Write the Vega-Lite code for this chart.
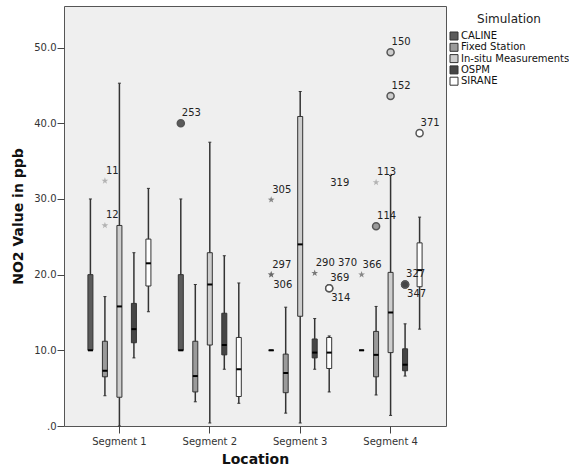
{
  "$schema": "https://vega.github.io/schema/vega-lite/v6.json",
  "width": 382,
  "height": 420,
  "autosize": "none",
  "padding": {"left": 64, "top": 6, "right": 123, "bottom": 46},
  "background": "white",
  "config": {
    "font": "DejaVu Sans",
    "view": {"fill": "#efefef", "stroke": "#555555", "strokeWidth": 1},
    "axis": {"labelColor": "#333333", "labelFontSize": 10, "tickColor": "#444444", "domain": false, "grid": false, "titleColor": "#111111", "titleFontSize": 14, "titleFontWeight": "bold"},
    "legend": {"orient": "none", "legendX": 385, "legendY": 8, "symbolType": "square", "symbolSize": 64, "symbolStrokeColor": "#333333", "symbolStrokeWidth": 1, "labelFontSize": 10, "labelColor": "#111111", "labelOffset": 2, "rowPadding": -0.7, "titleFontSize": 12, "titleFontWeight": "normal", "titleColor": "#222222", "titleAnchor": "middle", "titlePadding": 5, "padding": 0}
  },
  "datasets": {
    "boxes": [
      {"seg": "Segment 1", "sim": "CALINE", "lo": 10, "q1": 10, "med": 10, "q3": 20, "hi": 30},
      {"seg": "Segment 1", "sim": "Fixed Station", "lo": 4.0, "q1": 6.5, "med": 7.3, "q3": 11.2, "hi": 17.1},
      {"seg": "Segment 1", "sim": "In-situ Measurements", "lo": 0, "q1": 3.8, "med": 15.8, "q3": 26.5, "hi": 45.3},
      {"seg": "Segment 1", "sim": "OSPM", "lo": 9.0, "q1": 11.0, "med": 12.8, "q3": 16.2, "hi": 22.9},
      {"seg": "Segment 1", "sim": "SIRANE", "lo": 15.1, "q1": 18.5, "med": 21.5, "q3": 24.7, "hi": 31.4},
      {"seg": "Segment 2", "sim": "CALINE", "lo": 10, "q1": 10, "med": 10, "q3": 20, "hi": 30},
      {"seg": "Segment 2", "sim": "Fixed Station", "lo": 3.2, "q1": 4.5, "med": 6.6, "q3": 11.2, "hi": 18.7},
      {"seg": "Segment 2", "sim": "In-situ Measurements", "lo": 0.4, "q1": 10.7, "med": 18.7, "q3": 22.9, "hi": 37.5},
      {"seg": "Segment 2", "sim": "OSPM", "lo": 7.5, "q1": 9.4, "med": 10.7, "q3": 14.9, "hi": 22.5},
      {"seg": "Segment 2", "sim": "SIRANE", "lo": 3.0, "q1": 3.9, "med": 7.5, "q3": 11.7, "hi": 18.9},
      {"seg": "Segment 3", "sim": "CALINE", "lo": 10, "q1": 10, "med": 10, "q3": 10, "hi": 10},
      {"seg": "Segment 3", "sim": "Fixed Station", "lo": 1.7, "q1": 4.4, "med": 7.0, "q3": 9.5, "hi": 15.7},
      {"seg": "Segment 3", "sim": "In-situ Measurements", "lo": 0.4, "q1": 14.5, "med": 24.0, "q3": 40.9, "hi": 44.2},
      {"seg": "Segment 3", "sim": "OSPM", "lo": 7.5, "q1": 9.0, "med": 9.7, "q3": 11.5, "hi": 14.2},
      {"seg": "Segment 3", "sim": "SIRANE", "lo": 4.5, "q1": 7.6, "med": 9.7, "q3": 11.7, "hi": 11.9},
      {"seg": "Segment 4", "sim": "CALINE", "lo": 10, "q1": 10, "med": 10, "q3": 10, "hi": 10},
      {"seg": "Segment 4", "sim": "Fixed Station", "lo": 4.1, "q1": 6.5, "med": 9.4, "q3": 12.5, "hi": 15.8},
      {"seg": "Segment 4", "sim": "In-situ Measurements", "lo": 1.4, "q1": 9.7, "med": 15.0, "q3": 20.3, "hi": 33.1},
      {"seg": "Segment 4", "sim": "OSPM", "lo": 6.6, "q1": 7.3, "med": 8.1, "q3": 10.2, "hi": 13.5},
      {"seg": "Segment 4", "sim": "SIRANE", "lo": 12.8, "q1": 18.4, "med": 20.6, "q3": 24.2, "hi": 27.6}
    ],
    "outliers": [
      {"seg": "Segment 1", "sim": "Fixed Station", "value": 32.4, "type": "extreme", "label": "11", "side": "above"},
      {"seg": "Segment 1", "sim": "Fixed Station", "value": 26.5, "type": "extreme", "label": "12", "side": "above"},
      {"seg": "Segment 2", "sim": "CALINE", "value": 40.0, "type": "outlier", "label": "253", "side": "above"},
      {"seg": "Segment 3", "sim": "CALINE", "value": 29.9, "type": "extreme", "label": "305", "side": "above"},
      {"seg": "Segment 3", "sim": "CALINE", "value": 20.0, "type": "extreme", "label": "297", "side": "above"},
      {"seg": "Segment 3", "sim": "CALINE", "value": 20.0, "type": "extreme", "label": "306", "side": "below"},
      {"seg": "Segment 3", "sim": "OSPM", "value": 20.2, "type": "extreme", "label": "290 370", "side": "above"},
      {"seg": "Segment 3", "sim": "SIRANE", "value": 18.2, "type": "outlier", "label": "369", "side": "above"},
      {"seg": "Segment 3", "sim": "SIRANE", "value": 18.2, "type": "outlier", "label": "314", "side": "below"},
      {"seg": "Segment 3", "sim": "SIRANE", "value": 30.8, "type": "none", "label": "319", "side": "above"},
      {"seg": "Segment 4", "sim": "CALINE", "value": 20.0, "type": "extreme", "label": "366", "side": "above"},
      {"seg": "Segment 4", "sim": "Fixed Station", "value": 26.4, "type": "outlier", "label": "114", "side": "above"},
      {"seg": "Segment 4", "sim": "Fixed Station", "value": 32.2, "type": "extreme", "label": "113", "side": "above"},
      {"seg": "Segment 4", "sim": "In-situ Measurements", "value": 49.4, "type": "outlier", "label": "150", "side": "above"},
      {"seg": "Segment 4", "sim": "In-situ Measurements", "value": 43.6, "type": "outlier", "label": "152", "side": "above"},
      {"seg": "Segment 4", "sim": "OSPM", "value": 18.7, "type": "outlier", "label": "327", "side": "above"},
      {"seg": "Segment 4", "sim": "OSPM", "value": 18.7, "type": "outlier", "label": "347", "side": "below"},
      {"seg": "Segment 4", "sim": "SIRANE", "value": 38.7, "type": "outlier", "label": "371", "side": "above"}
    ]
  },
  "encoding": {
    "x": {"field": "seg", "type": "nominal", "title": "Location",
      "scale": {"paddingInner": 0, "paddingOuter": 0.113},
      "axis": {"labelAngle": 0, "tickSize": 7, "labelPadding": 3, "titlePadding": 6}},
    "xOffset": {"field": "sim", "type": "nominal",
      "sort": ["CALINE", "Fixed Station", "In-situ Measurements", "OSPM", "SIRANE"],
      "scale": {"paddingInner": 0, "paddingOuter": 0.617}}
  },
  "layer": [
    {
      "data": {"name": "boxes"},
      "mark": {"type": "rule", "stroke": "#333333", "strokeWidth": 1.5},
      "encoding": {
        "y": {"field": "lo", "type": "quantitative", "title": "NO2 Value in ppb",
          "scale": {"domain": [0, 55.5], "nice": false, "zero": true},
          "axis": {"values": [0, 10, 20, 30, 40, 50], "labelExpr": "datum.value == 0 ? '.0' : format(datum.value, '.1f')", "tickSize": 7, "labelPadding": 1, "titlePadding": 8}},
        "y2": {"field": "hi"}
      }
    },
    {
      "data": {"name": "boxes"},
      "mark": {"type": "tick", "size": 3, "thickness": 1, "color": "#333333", "opacity": 1},
      "encoding": {"y": {"field": "lo", "type": "quantitative"}}
    },
    {
      "data": {"name": "boxes"},
      "mark": {"type": "tick", "size": 3, "thickness": 1, "color": "#333333", "opacity": 1},
      "encoding": {"y": {"field": "hi", "type": "quantitative"}}
    },
    {
      "data": {"name": "boxes"},
      "mark": {"type": "bar", "width": 5, "stroke": "#333333", "strokeWidth": 1},
      "encoding": {
        "y": {"field": "q1", "type": "quantitative"},
        "y2": {"field": "q3"},
        "fill": {"field": "sim", "type": "nominal", "title": "Simulation",
          "scale": {"domain": ["CALINE", "Fixed Station", "In-situ Measurements", "OSPM", "SIRANE"],
                    "range": ["#5b5b5b", "#9a9a9a", "#cdcdcd", "#464646", "#ffffff"]}}
      }
    },
    {
      "data": {"name": "boxes"},
      "mark": {"type": "tick", "size": 5, "thickness": 2, "color": "#000000", "opacity": 1},
      "encoding": {"y": {"field": "med", "type": "quantitative"}}
    },
    {
      "data": {"name": "outliers"},
      "transform": [{"filter": "datum.type == 'outlier'"}],
      "mark": {"type": "point", "shape": "circle", "filled": true, "size": 50, "stroke": "#555555", "strokeWidth": 1.5, "opacity": 1},
      "encoding": {
        "y": {"field": "value", "type": "quantitative"},
        "fill": {"field": "sim", "type": "nominal"}
      }
    },
    {
      "data": {"name": "outliers"},
      "transform": [{"filter": "datum.type == 'extreme'"}],
      "mark": {"type": "point", "shape": "M0,-1L0.235,-0.324L0.951,-0.309L0.380,0.124L0.588,0.809L0,0.4L-0.588,0.809L-0.380,0.124L-0.951,-0.309L-0.235,-0.324Z", "filled": true, "size": 50, "fillOpacity": 0.7, "strokeWidth": 0},
      "encoding": {
        "y": {"field": "value", "type": "quantitative"},
        "fill": {"field": "sim", "type": "nominal"}
      }
    },
    {
      "data": {"name": "outliers"},
      "transform": [{"filter": "datum.side == 'above'"}],
      "mark": {"type": "text", "align": "left", "baseline": "middle", "dx": 1, "dy": -10, "fontSize": 10, "color": "#222222"},
      "encoding": {
        "y": {"field": "value", "type": "quantitative"},
        "text": {"field": "label"}
      }
    },
    {
      "data": {"name": "outliers"},
      "transform": [{"filter": "datum.side == 'below'"}],
      "mark": {"type": "text", "align": "left", "baseline": "middle", "dx": 2, "dy": 10, "fontSize": 10, "color": "#222222"},
      "encoding": {
        "y": {"field": "value", "type": "quantitative"},
        "text": {"field": "label"}
      }
    }
  ]
}
